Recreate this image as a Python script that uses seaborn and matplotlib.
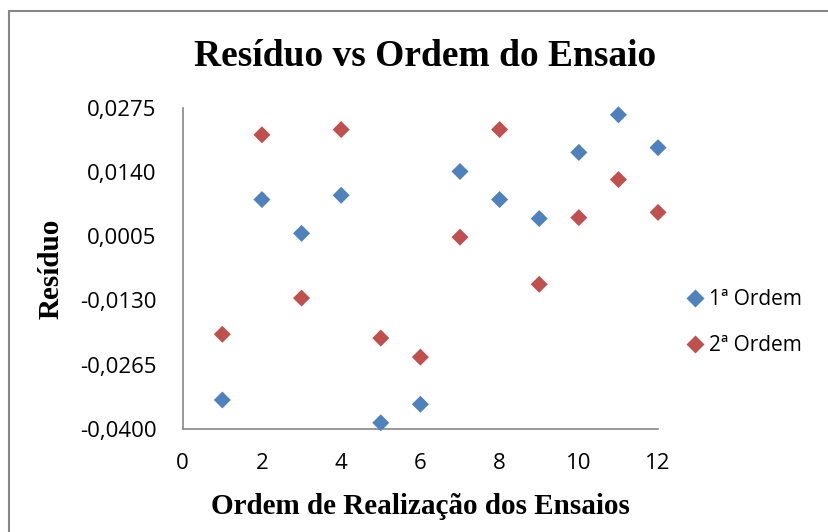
import matplotlib
matplotlib.use("Agg")
import numpy as np
import pandas as pd
import matplotlib.pyplot as plt
import seaborn as sns
from matplotlib.patches import Rectangle

# Dados
ordem = [1, 2, 3, 4, 5, 6, 7, 8, 9, 10, 11, 12]
residuo_1 = [-0.0339, 0.0082, 0.0011, 0.0091, -0.0387, -0.0348,
             0.0141, 0.0082, 0.0042, 0.0181, 0.0260, 0.0191]
residuo_2 = [-0.0201, 0.0218, -0.0125, 0.0229, -0.0209, -0.0249,
             0.0003, 0.0229, -0.0096, 0.0044, 0.0124, 0.0055]
series = ["1ª Ordem", "2ª Ordem"]
yticks = [-0.0400, -0.0265, -0.0130, 0.0005, 0.0140, 0.0275]
xticks = [0, 2, 4, 6, 8, 10, 12]

df = pd.DataFrame({
    "ordem": ordem * 2,
    "residuo": residuo_1 + residuo_2,
    "serie": [series[0]] * len(ordem) + [series[1]] * len(ordem),
})

sns.set_style("white")
plt.rcParams["font.family"] = ["Open Sans", "DejaVu Sans"]
plt.rcParams["text.color"] = "black"
plt.rcParams["axes.labelcolor"] = "black"

fig = plt.figure(figsize=(8.29, 5.32), dpi=100)
ax = fig.add_axes([0.2204, 0.1936, 0.5734, 0.604])

sns.scatterplot(
    data=df, x="ordem", y="residuo", hue="serie",
    palette=["#4F81BD", "#C0504D"], marker="D", s=75,
    edgecolor="none", ax=ax, legend=True, clip_on=False, zorder=3,
)

ax.set_xlim(0, 12)
ax.set_ylim(-0.0400, 0.0275)
ax.set_xticks(xticks)
ax.set_yticks(yticks)
ax.set_yticklabels([f"{v:.4f}".replace(".", ",") for v in yticks])
ax.tick_params(axis="both", labelsize=16, length=5, width=1,
               color="#868686", labelcolor="black", direction="out")
ax.tick_params(axis="y", pad=14)
ax.tick_params(axis="x", pad=12)

for side in ["top", "right"]:
    ax.spines[side].set_visible(False)
for side in ["left", "bottom"]:
    ax.spines[side].set_color("#868686")
    ax.spines[side].set_linewidth(1.2)

serif = ["Liberation Serif", "DejaVu Serif"]
ax.set_xlabel("Ordem de Realização dos Ensaios", fontsize=21,
              fontweight="bold", family=serif, labelpad=14)
ax.set_ylabel("Resíduo", fontsize=21, fontweight="bold", family=serif,
              labelpad=11)
fig.text(0.513, 0.893, "Resíduo vs Ordem do Ensaio", fontsize=27,
         fontweight="bold", family=serif, ha="center", va="center")

leg = ax.legend(loc="center left", bbox_to_anchor=(1.02, 0.33),
                frameon=False, fontsize=15, handletextpad=0.3,
                handlelength=0.8, labelspacing=1.2, markerscale=1.0)

# borda do gráfico (estilo Excel)
fig.patches.append(Rectangle((0.011, -0.05), 1.1, 1.029,
                             transform=fig.transFigure, fill=False,
                             edgecolor="#868686", linewidth=1.5))

fig.savefig("out.png", dpi=100)
